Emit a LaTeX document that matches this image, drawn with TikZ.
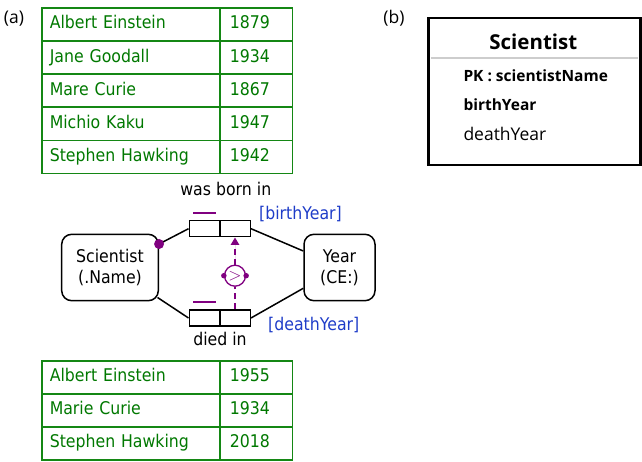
\documentclass[tikz,border=0pt]{standalone}
\usepackage{fontspec}
\usetikzlibrary{arrows.meta,calc}
\newfontfamily\tah[FakeStretch=0.9]{DejaVu Sans}
\newfontfamily\nsans{Open Sans}
\definecolor{tgreen}{RGB}{0,120,0}
\definecolor{lgreen}{RGB}{20,135,20}
\definecolor{pur}{RGB}{128,0,128}
\definecolor{bl}{RGB}{30,60,200}
\definecolor{sepgray}{RGB}{205,205,205}
\tikzset{
  namecell/.style={draw=lgreen, line width=1.5pt, text=tgreen, font=\tah\fontsize{17.5}{20}\selectfont,
    anchor=north west, minimum height=33pt, inner xsep=8pt, inner ysep=0pt,
    text width=162pt, align=left, text height=12.8pt, text depth=4pt},
  yearcell/.style={namecell, text width=53pt, inner xsep=9.7pt},
  ent/.style={draw, line width=1.5pt, rounded corners=10pt, align=center,
    font=\tah\fontsize{17.5}{21.4}\selectfont, inner sep=0pt},
  role/.style={draw, line width=1.5pt, minimum width=30.5pt, minimum height=16pt, inner sep=0pt},
  lbl/.style={font=\tah\fontsize{17.5}{20}\selectfont, inner sep=0pt},
  blbl/.style={lbl, text=bl, anchor=base west},
  conn/.style={line width=1.5pt},
  pbar/.style={draw=pur, line width=2.2pt},
  pdash/.style={draw=pur, line width=1.5pt, dash pattern=on 6pt off 4pt},
  pdot/.style={circle, fill=pur, inner sep=0pt},
  rtxt/.style={font=\nsans\fontsize{17.5}{20}\selectfont, inner sep=0pt, anchor=base west},
  rbold/.style={rtxt, font=\nsans\bfseries\fontsize{15.5}{20}\selectfont},
}
\begin{document}
\begin{tikzpicture}[x=1pt,y=-1pt]
\useasboundingbox (0,0) rectangle (642,462);
% labels
\node[rtxt, anchor=base] (la) at (14,23.3) {(a)};
\node[rtxt, anchor=base] (lb) at (394,23.3) {(b)};
% table 1
\foreach \n/\yr [count=\i] in {Albert Einstein/1879, Jane Goodall/1934, Mare Curie/1867, Michio Kaku/1947, Stephen Hawking/1942}{
  \node[namecell] (ta\i) at (41,{7.3+33.1*(\i-1)}) {\n};
  \node[yearcell] (tb\i) at (219.3,{7.3+33.1*(\i-1)}) {\yr};
}
% table 2
\foreach \n/\yr [count=\i] in {Albert Einstein/1955, Marie Curie/1934, Stephen Hawking/2018}{
  \node[namecell] (ua\i) at (41,{360+33.1*(\i-1)}) {\n};
  \node[yearcell] (ub\i) at (219.3,{360+33.1*(\i-1)}) {\yr};
}
% ORM diagram
\node[ent, minimum width=96.6pt, minimum height=66.4pt] (sci) at (110,267.5) {Scientist\\(.Name)};
\node[ent, minimum width=71pt, minimum height=66.4pt] (yr) at (339.5,267.5) {Year\\(CE:)};
\node[role] (r1a) at (204.5,228.7) {};
\node[role] (r1b) at (235,228.7) {};
\node[role] (r2a) at (204.5,318) {};
\node[role] (r2b) at (235,318) {};
\node[lbl, anchor=base] (born) at (225.8,195.5) {was born in};
\node[lbl, anchor=base] (died) at (220,345) {died in};
\node[blbl] (bY) at (259,220) {[birthYear]};
\node[blbl] (dY) at (268,330) {[deathYear]};
% connectors
\coordinate (sd) at ([yshift=23.5pt]sci.east);
\draw[conn] (sd) -- (r1a.west);
\draw[conn] (r1b.east) -- ([yshift=16.5pt]yr.west);
\draw[conn] ([xshift=-1.5pt,yshift=-30pt]sci.east) -- (r2a.west);
\draw[conn] (r2b.east) -- ([yshift=-20.8pt]yr.west);
\node[pdot, minimum size=10pt] (mand) at (sd) {};
% uniqueness bars
\draw[pbar] ([xshift=-11.5pt,yshift=6.7pt]r1a.north) -- ([xshift=11.5pt,yshift=6.7pt]r1a.north);
\draw[pbar] ([xshift=-11.5pt,yshift=7.3pt]r2a.north) -- ([xshift=11.5pt,yshift=7.3pt]r2a.north);
% comparison constraint
\node[circle, draw=pur, line width=1.3pt, minimum size=21pt, inner sep=0pt, text=pur,
  font=\tah\fontsize{17}{20}\selectfont] (cmp) at (235,275.7) {$>$};
\draw[pdash] (r2b.north) -- (cmp.south);
\draw[pdash, -{Triangle[width=8.5pt,length=7.5pt]}, fill=pur] (cmp.north) -- (r1b.south);
\node[pdot, minimum size=5.5pt] (cl) at (cmp.west) {};
\node[pdot, minimum size=5.5pt] (cr) at (cmp.east) {};
% right panel
\node[draw, line width=2.2pt, anchor=north west, minimum width=212pt, minimum height=147.3pt, inner sep=0pt] (box) at (427.3,16.7) {};
\node[font=\nsans\bfseries\fontsize{20.5}{24}\selectfont, inner sep=0pt, anchor=base] (ttl) at (533.3,50) {Scientist};
\draw[sepgray, line width=2pt] ([xshift=3.4pt]box.west |- 0,58.3) coordinate (s1) -- ([xshift=-3.3pt]box.east |- 0,58.3) coordinate (s2);
\node[rbold] (pk) at (463.3,81.7) {PK : scientistName};
\node[rbold] (by) at (463.3,111) {birthYear};
\node[rtxt] (dy) at (463.3,140.7) {deathYear};
\end{tikzpicture}
\end{document}
